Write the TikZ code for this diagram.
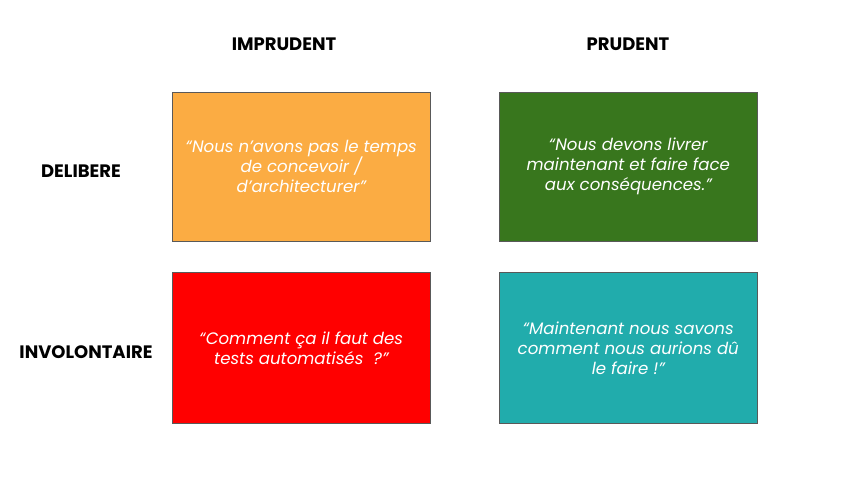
\documentclass[tikz,border=0pt]{standalone}
\usepackage{fontspec}
\setmainfont{Poppins}
\begin{document}
\begin{tikzpicture}[x=1pt,y=-1pt,
  cell/.style={draw=black!65,line width=0.6pt,minimum width=258pt,minimum height=149pt,
    anchor=north west,inner sep=0pt},
  quote/.style={text=white,font=\fontsize{16.6}{20}\selectfont\itshape,align=center},
  head/.style={font=\fontsize{18}{20}\selectfont\bfseries,text=black}]
\useasboundingbox (0,0) rectangle (860,484);
\definecolor{cOrange}{HTML}{FBAC43}
\definecolor{cGreen}{HTML}{38761D}
\definecolor{cRed}{HTML}{FF0000}
\definecolor{cTeal}{HTML}{21ACAC}
% column and row headings
\node[head] (imp) at (284,44) {IMPRUDENT};
\node[head] (pru) at (628,44) {PRUDENT};
\node[head] (del) at (81,171) {DELIBERE};
\node[head] (inv) at (86,352) {INVOLONTAIRE};
% quadrants
\node[cell,fill=cOrange] (q1) at (172,92) {};
\node[cell,fill=cGreen] (q2) at (499,92) {};
\node[cell,fill=cRed,minimum height=151pt] (q3) at (172,272) {};
\node[cell,fill=cTeal,minimum height=151pt] (q4) at (499,272) {};
\node[quote] (t1) at (q1.center) {“Nous n’avons pas le temps\\de concevoir /\\d’architecturer”};
\node[quote] (t2) at (q2.center) {“Nous devons livrer\\maintenant et faire face\\aux conséquences.”};
\node[quote] (t3) at (q3.center) {“Comment ça il faut des\\tests automatisés~~?”};
\node[quote] (t4) at (q4.center) {“Maintenant nous savons\\comment nous aurions dû\\le faire !”};
\end{tikzpicture}
\end{document}
